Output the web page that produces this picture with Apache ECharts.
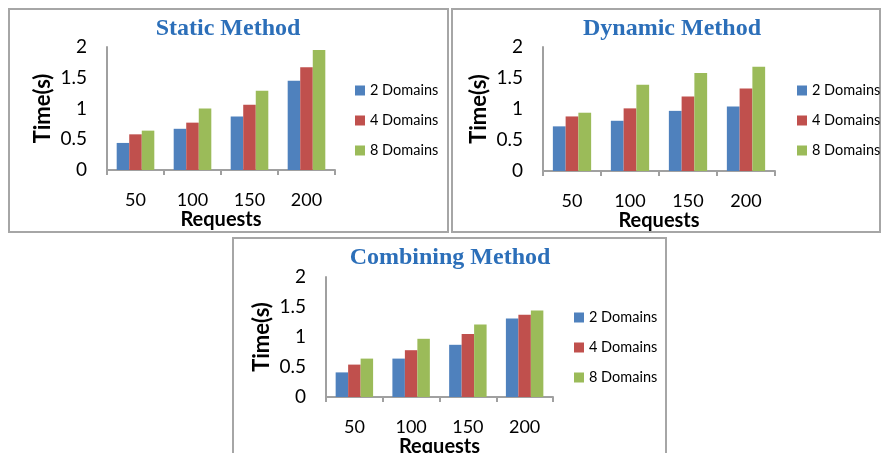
<!DOCTYPE html>
<html>
<head>
<meta charset="utf-8">
<script src="https://cdn.jsdelivr.net/npm/echarts@6/dist/echarts.min.js"></script>
<style>
html,body{margin:0;padding:0;background:#fff;}
#chart{width:882px;height:453px;}
</style>
</head>
<body>
<div id="chart"></div>
<script>
// ---- data ----
const categories = ['50', '100', '150', '200'];
const seriesNames = ['2 Domains', '4 Domains', '8 Domains'];
const yTicks = [0, 0.5, 1, 1.5, 2];

const staticTitle = 'Static Method';
const static2 = [0.44, 0.67, 0.87, 1.45];
const static4 = [0.58, 0.77, 1.06, 1.67];
const static8 = [0.64, 1.00, 1.29, 1.95];

const dynamicTitle = 'Dynamic Method';
const dynamic2 = [0.72, 0.81, 0.97, 1.04];
const dynamic4 = [0.88, 1.01, 1.20, 1.33];
const dynamic8 = [0.94, 1.39, 1.58, 1.68];

const combiningTitle = 'Combining Method';
const combining2 = [0.41, 0.64, 0.87, 1.31];
const combining4 = [0.54, 0.78, 1.05, 1.37];
const combining8 = [0.64, 0.97, 1.21, 1.44];

const xName = 'Requests';
const yName = 'Time(s)';

// ---- styling / layout ----
const colors = ['#4f81bd', '#c0504d', '#9bbb59'];
const font = 'Lato, "Open Sans", sans-serif';
const titleColor = '#2c6fb9';
const axisGray = '#a0a0a0';

const panels = [
  { title: staticTitle, data: [static2, static4, static8],
    grid: { left: 107, top: 47, width: 228, height: 123 },
    box: { x: 9, y: 9, width: 439, height: 223 },
    titlePos: [228, 29], legendPos: { left: 355, top: 83 } },
  { title: dynamicTitle, data: [dynamic2, dynamic4, dynamic8],
    grid: { left: 543, top: 47, width: 232, height: 124 },
    box: { x: 452, y: 9, width: 428, height: 223 },
    titlePos: [672, 29], legendPos: { left: 797, top: 83 } },
  { title: combiningTitle, data: [combining2, combining4, combining8],
    grid: { left: 326, top: 277, width: 227, height: 120 },
    box: { x: 233, y: 238, width: 433, height: 230 },
    titlePos: [450, 258], legendPos: { left: 574, top: 310 } }
];

const grids = [], xAxes = [], yAxes = [], series = [], legends = [], graphics = [];
panels.forEach((p, i) => {
  grids.push(Object.assign({ containLabel: false, outerBoundsMode: 'none' }, p.grid));
  xAxes.push({
    type: 'category', gridIndex: i, data: categories,
    name: xName, nameLocation: 'middle', nameGap: 37,
    nameTextStyle: { fontFamily: font, fontSize: 20, fontWeight: 'bold', color: '#000' },
    axisLine: { lineStyle: { color: axisGray, width: 2 } },
    axisTick: { show: true, inside: false, length: 5, lineStyle: { color: axisGray, width: 2 } },
    axisLabel: { fontFamily: font, fontSize: 18, color: '#000', margin: 21 }
  });
  yAxes.push({
    type: 'value', gridIndex: i, min: yTicks[0], max: yTicks[yTicks.length - 1],
    interval: yTicks[1] - yTicks[0],
    name: yName, nameLocation: 'middle', nameGap: 53, nameRotate: 90,
    nameTextStyle: { fontFamily: font, fontSize: 22, fontWeight: 'bold', color: '#000' },
    axisLine: { show: true, lineStyle: { color: axisGray, width: 2 } },
    axisTick: { show: false },
    splitLine: { show: false },
    axisLabel: { fontFamily: font, fontSize: 19, color: '#000', margin: 20 }
  });
  p.data.forEach((vals, k) => {
    series.push({
      type: 'bar', name: seriesNames[k], xAxisIndex: i, yAxisIndex: i,
      data: vals, barGap: '0%', barCategoryGap: '34%',
      itemStyle: { color: colors[k] }, animation: false
    });
  });
  legends.push({
    orient: 'vertical', left: p.legendPos.left, top: p.legendPos.top, padding: 0,
    data: seriesNames, icon: 'rect', itemWidth: 10, itemHeight: 10, itemGap: 15,
    selectedMode: false,
    textStyle: { fontFamily: font, fontSize: 14.5, color: '#000', lineHeight: 14 }
  });
  graphics.push({
    type: 'rect', shape: p.box, silent: true,
    style: { fill: 'none', stroke: '#a6a6a6', lineWidth: 2 }
  });
  graphics.push({
    type: 'text', x: p.titlePos[0], y: p.titlePos[1], silent: true,
    style: { text: p.title, fill: titleColor, font: 'bold 24px "Liberation Serif", serif',
      textAlign: 'center', textVerticalAlign: 'middle' }
  });
});

const chart = echarts.init(document.getElementById('chart'));
chart.setOption({
  animation: false,
  color: colors,
  grid: grids, xAxis: xAxes, yAxis: yAxes, series: series,
  legend: legends, graphic: graphics
});
</script>
</body>
</html>
